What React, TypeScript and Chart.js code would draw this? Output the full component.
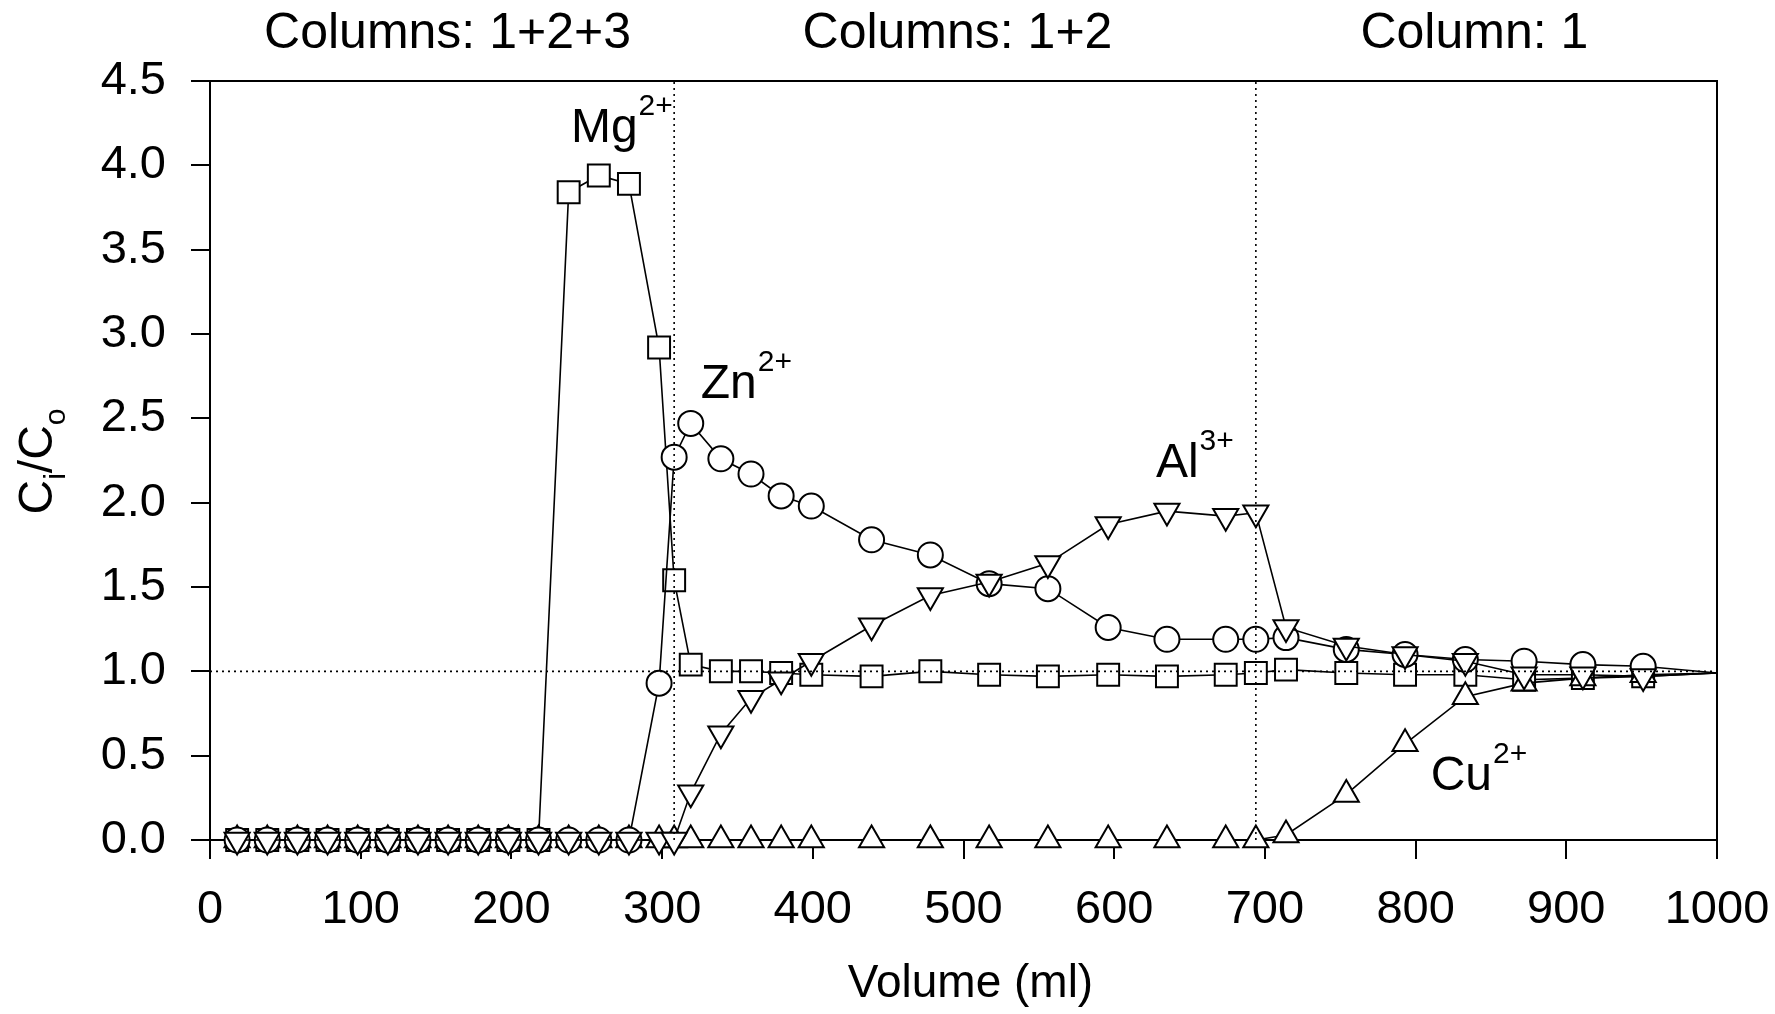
import React, { useEffect, useRef } from 'react';
import { Chart, registerables } from 'chart.js';

Chart.register(...registerables);

// ---------- data ----------
const VOLUME = [18, 38, 58, 78, 98, 118, 138, 158, 178, 198, 218, 238, 258, 278, 298, 308, 319, 339, 359, 379, 399, 439, 478, 517, 556, 596, 635, 674, 694, 714, 754, 793, 833, 872, 911, 951, 1000];
const MG = [0, 0, 0, 0, 0, 0, 0, 0, 0, 0, 0, 3.84, 3.94, 3.89, 2.92, 1.54, 1.04, 1.0, 1.0, 0.99, 0.98, 0.97, 1.0, 0.98, 0.97, 0.98, 0.97, 0.98, 0.99, 1.01, 0.99, 0.98, 0.98, 0.95, 0.96, 0.97, 0.99];
const ZN = [0, 0, 0, 0, 0, 0, 0, 0, 0, 0, 0, 0, 0, 0, 0.93, 2.27, 2.47, 2.26, 2.17, 2.04, 1.98, 1.78, 1.69, 1.52, 1.49, 1.26, 1.19, 1.19, 1.19, 1.2, 1.13, 1.1, 1.07, 1.06, 1.04, 1.03, 0.99];
const AL = [0, 0, 0, 0, 0, 0, 0, 0, 0, 0, 0, 0, 0, 0, 0, 0, 0.28, 0.63, 0.84, 0.95, 1.06, 1.27, 1.45, 1.53, 1.64, 1.87, 1.95, 1.92, 1.94, 1.26, 1.15, 1.1, 1.06, 0.98, 0.98, 0.97, 0.99];
const CU = [0, 0, 0, 0, 0, 0, 0, 0, 0, 0, 0, 0, 0, 0, 0, 0, 0, 0, 0, 0, 0, 0, 0, 0, 0, 0, 0, 0, 0, 0.03, 0.27, 0.57, 0.85, 0.93, 0.96, 0.98, 0.99];

const X_TICKS = [0, 100, 200, 300, 400, 500, 600, 700, 800, 900, 1000];
const Y_TICKS = [0, 0.5, 1.0, 1.5, 2.0, 2.5, 3.0, 3.5, 4.0, 4.5];

const COLUMN_SWITCHES = [308, 694];
const REFERENCE_LEVEL = 1.0;

const COLUMN_LABELS = ['Columns: 1+2+3', 'Columns: 1+2', 'Column: 1'];
const COLUMN_LABEL_AT = [157.6, 496, 839];

const ION_NAMES = ['Mg', 'Zn', 'Al', 'Cu'];
const ION_CHARGES = ['2+', '2+', '3+', '2+'];
const ION_LABEL_X = [239.5, 325.6, 627.7, 810];
const ION_LABEL_Y = [4.14, 2.62, 2.15, 0.294];

const FONT = '"Liberation Sans", Arial, Helvetica, sans-serif';

const toPoints = (ys: number[]) => ys.map((v, i) => ({ x: VOLUME[i], y: v }));
const radius = (R: number) => (ctx: any) => (ctx.raw && ctx.raw.x >= 1000 ? 0 : R);

const seriesStyle = (style: string, R: number, rotation = 0) => ({
  showLine: true,
  borderColor: '#000',
  borderWidth: 1.6,
  pointStyle: style,
  pointRotation: rotation,
  pointRadius: radius(R),
  pointBackgroundColor: '#fff',
  pointBorderColor: '#000',
  pointBorderWidth: 2,
  clip: false as any,
  tension: 0,
});

const dotted = {
  showLine: true,
  borderColor: '#000',
  borderWidth: 1.6,
  borderDash: [2, 4],
  pointRadius: 0,
  clip: false as any,
};

const annotations = {
  id: 'annotations',
  beforeDatasetsDraw(chart: any) {
    const { ctx, chartArea: a } = chart;
    ctx.save();
    ctx.strokeStyle = '#000';
    ctx.lineWidth = 2;
    ctx.strokeRect(a.left, a.top, a.right - a.left, a.bottom - a.top);
    ctx.restore();
  },
  afterDraw(chart: any) {
    const { ctx, chartArea: a, scales } = chart;
    const xs = scales.x;
    const ys = scales.y;
    ctx.save();
    ctx.fillStyle = '#000';
    ctx.textBaseline = 'alphabetic';

    // column headings
    ctx.textAlign = 'center';
    ctx.font = `50px ${FONT}`;
    COLUMN_LABELS.forEach((t, i) => {
      ctx.fillText(t, xs.getPixelForValue(COLUMN_LABEL_AT[i]), 48);
    });

    // ion labels
    ctx.textAlign = 'left';
    ION_NAMES.forEach((n, i) => {
      const px = xs.getPixelForValue(ION_LABEL_X[i]);
      const py = ys.getPixelForValue(ION_LABEL_Y[i]);
      ctx.font = `48px ${FONT}`;
      ctx.fillText(n, px, py);
      const w = ctx.measureText(n).width;
      ctx.font = `30px ${FONT}`;
      ctx.fillText(ION_CHARGES[i], px + w + 1, py - 27);
    });

    // x title
    ctx.textAlign = 'center';
    ctx.font = `46px ${FONT}`;
    ctx.fillText('Volume (ml)', (a.left + a.right) / 2 + 7, 997);

    // y title C_i/C_o
    ctx.save();
    ctx.translate(52, (a.top + a.bottom) / 2 + 54);
    ctx.rotate(-Math.PI / 2);
    ctx.textAlign = 'left';
    let cx = 0;
    const part = (t: string, size: number, dy: number) => {
      ctx.font = `${size}px ${FONT}`;
      ctx.fillText(t, cx, dy);
      cx += ctx.measureText(t).width;
    };
    part('C', 48, 0);
    part('i', 30, 13);
    part('/', 48, 0);
    part('C', 48, 0);
    part('o', 30, 13);
    ctx.restore();

    ctx.restore();
  },
};

export default function App() {
  const ref = useRef<HTMLCanvasElement | null>(null);

  useEffect(() => {
    if (!ref.current) return;
    const datasets: any[] = [
      { ...dotted, data: [{ x: 0, y: REFERENCE_LEVEL }, { x: 1000, y: REFERENCE_LEVEL }] },
      ...COLUMN_SWITCHES.map((v) => ({ ...dotted, data: [{ x: v, y: 0 }, { x: v, y: 4.5 }] })),
      { label: 'Al3+', data: toPoints(AL), ...seriesStyle('triangle', 14.5, 180) },
      { label: 'Zn2+', data: toPoints(ZN), ...seriesStyle('circle', 12.5) },
      { label: 'Cu2+', data: toPoints(CU), ...seriesStyle('triangle', 14.5) },
      { label: 'Mg2+', data: toPoints(MG), ...seriesStyle('rect', 15.5) },
    ];

    const chart = new Chart(ref.current, {
      type: 'scatter',
      data: { datasets },
      plugins: [annotations],
      options: {
        responsive: false,
        animation: false,
        devicePixelRatio: 1,
        events: [],
        layout: { padding: { left: 0, right: 58, top: 81, bottom: 0 } },
        plugins: { legend: { display: false }, tooltip: { enabled: false } },
        scales: {
          x: {
            type: 'linear',
            min: 0,
            max: 1000,
            afterBuildTicks: (s: any) => {
              s.ticks = X_TICKS.map((v) => ({ value: v }));
            },
            afterFit: (s: any) => {
              s.height = 174;
              s.paddingLeft = 0;
              s.paddingRight = 0;
            },
            grid: { drawOnChartArea: false, drawTicks: true, tickLength: 19, color: '#000', lineWidth: 2 },
            border: { display: true, color: '#000', width: 2 },
            ticks: {
              autoSkip: false,
              maxRotation: 0,
              padding: 23,
              color: '#000',
              font: { family: FONT, size: 47 },
              callback: (v: any) => String(v),
            },
          },
          y: {
            type: 'linear',
            min: 0,
            max: 4.5,
            afterBuildTicks: (s: any) => {
              s.ticks = Y_TICKS.map((v) => ({ value: v }));
            },
            afterFit: (s: any) => {
              s.width = 210;
              s.paddingTop = 0;
              s.paddingBottom = 0;
            },
            grid: { drawOnChartArea: false, drawTicks: true, tickLength: 19, color: '#000', lineWidth: 2 },
            border: { display: true, color: '#000', width: 2 },
            ticks: {
              padding: 25,
              color: '#000',
              font: { family: FONT, size: 47 },
              callback: (v: any) => Number(v).toFixed(1),
            },
          },
        },
      } as any,
    });
    return () => chart.destroy();
  }, []);

  return (
    <div style={{ position: 'absolute', left: 0, top: 0, width: 1775, height: 1014, background: '#fff' }}>
      <canvas ref={ref} width={1775} height={1014} style={{ display: 'block', width: 1775, height: 1014 }} />
    </div>
  );
}
